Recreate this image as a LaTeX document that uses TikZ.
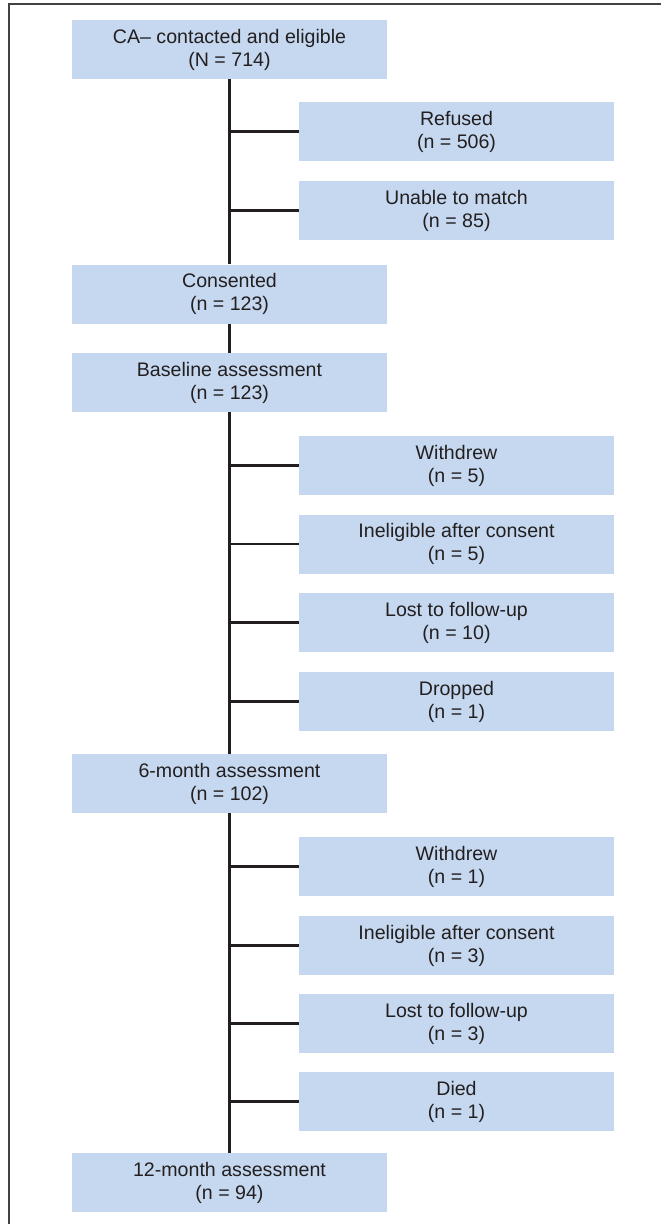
\documentclass[tikz,border=0pt]{standalone}
\usepackage{fontspec}
\setmainfont{Liberation Sans}
\definecolor{boxblue}{RGB}{197,216,239}
\definecolor{ink}{RGB}{35,31,32}
\begin{document}
\begin{tikzpicture}[x=1pt,y=-1pt,
  box/.style={fill=boxblue, draw=none, minimum width=315pt, minimum height=59pt,
    inner sep=0pt, align=center, text=ink, font=\fontsize{19.6}{23}\selectfont},
  conn/.style={draw=ink, line width=2.2pt},
  frameline/.style={draw=ink!85, line width=1.4pt}]
\useasboundingbox (0,0) rectangle (661,1224);
\draw[frameline] (661,4) -- (9,4) -- (9,1224);
% main column
\node[box] (top)  at (229.5,49.5)  {CA– contacted and eligible\\(N = 714)};
\node[box] (cons) at (229.5,294)   {Consented\\(n = 123)};
\node[box] (base) at (229.5,382.5) {Baseline assessment\\(n = 123)};
\node[box] (m6)   at (229.5,783.5) {6-month assessment\\(n = 102)};
\node[box] (m12)  at (229.5,1182.5){12-month assessment\\(n = 94)};
% side boxes
\node[box] (ref)  at (456.5,131.5)  {Refused\\(n = 506)};
\node[box] (unm)  at (456.5,210.5)  {Unable to match\\(n = 85)};
\node[box] (wd1)  at (456.5,465.5)  {Withdrew\\(n = 5)};
\node[box] (ie1)  at (456.5,544)    {Ineligible after consent\\(n = 5)};
\node[box] (lf1)  at (456.5,622.5)  {Lost to follow-up\\(n = 10)};
\node[box] (dr1)  at (456.5,701.5)  {Dropped\\(n = 1)};
\node[box] (wd2)  at (456.5,866.5)  {Withdrew\\(n = 1)};
\node[box] (ie2)  at (456.5,945.5)  {Ineligible after consent\\(n = 3)};
\node[box] (lf2)  at (456.5,1023.5) {Lost to follow-up\\(n = 3)};
\node[box] (died) at (456.5,1101.5) {Died\\(n = 1)};
% trunk
\draw[conn] (top.south) -- (cons.north);
\draw[conn] (cons.south) -- (base.north);
\draw[conn] (base.south) -- (m6.north);
\draw[conn] (m6.south) -- (m12.north);
% branches
\foreach \b in {ref,unm,wd1,ie1,lf1,dr1,wd2,ie2,lf2,died}
  \draw[conn] (top.south |- \b.west) -- (\b.west);
\end{tikzpicture}
\end{document}
